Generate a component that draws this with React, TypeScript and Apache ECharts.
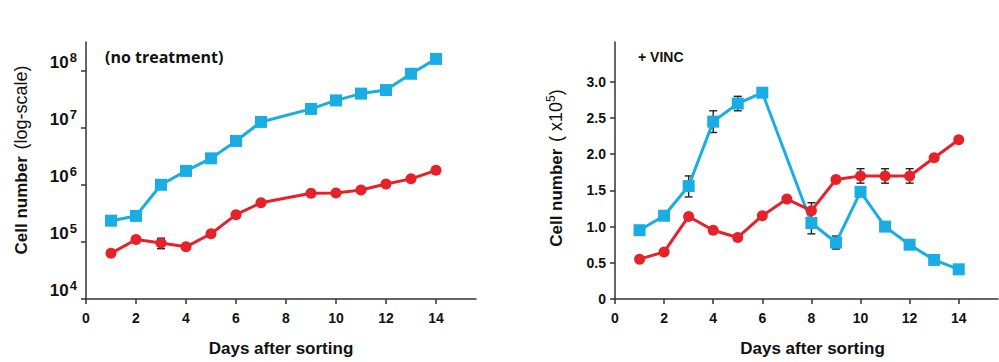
import React, { useEffect, useRef } from 'react';
import * as echarts from 'echarts';

// ---------- data ----------
const days = [1, 2, 3, 4, 5, 6, 7, 9, 10, 11, 12, 13, 14];
const noTreatBlue = [2.35e5, 2.85e5, 1.0e6, 1.75e6, 2.9e6, 5.85e6, 1.26e7, 2.13e7, 3.0e7, 3.95e7, 4.55e7, 8.8e7, 1.6e8];
const noTreatRed = [6.3e4, 1.1e5, 9.6e4, 8.2e4, 1.39e5, 3.0e5, 4.85e5, 7.1e5, 7.2e5, 8.1e5, 1.03e6, 1.27e6, 1.79e6];
const noTreatRedErr = [[3, 7.6e4, 1.16e5]];

const vincBlueDays = [1, 2, 3, 4, 5, 6, 8, 9, 10, 11, 12, 13, 14];
const vincBlue = [0.95, 1.15, 1.56, 2.45, 2.7, 2.85, 1.05, 0.78, 1.48, 1.0, 0.75, 0.54, 0.41];
const vincRedDays = [1, 2, 3, 4, 5, 6, 7, 8, 9, 10, 11, 12, 13, 14];
const vincRed = [0.55, 0.65, 1.14, 0.95, 0.85, 1.15, 1.38, 1.22, 1.65, 1.7, 1.7, 1.7, 1.95, 2.2];
const vincBlueErr = [[3, 1.41, 1.7], [4, 2.3, 2.6], [5, 2.6, 2.8], [8, 0.9, 1.2], [9, 0.69, 0.87]];
const vincRedErr = [[8, 1.12, 1.33], [10, 1.6, 1.8], [11, 1.6, 1.8], [12, 1.6, 1.8]];

const xTicks = [0, 2, 4, 6, 8, 10, 12, 14];
const logTicks = [4, 5, 6, 7, 8];
const linTicks = [0, 0.5, 1.0, 1.5, 2.0, 2.5, 3.0];

const BLUE = '#19ade4';
const RED = '#e5222a';
const AX = '#333';
const FONT = '"Liberation Sans", Arial, sans-serif';

const errRender = (params: any, api: any) => {
  const x = api.value(0);
  const lo = api.value(1);
  const hi = api.value(2);
  const p1 = api.coord([x, lo]);
  const p2 = api.coord([x, hi]);
  const cap = 4;
  const style = { stroke: '#222', lineWidth: 1.4 };
  return {
    type: 'group',
    children: [
      { type: 'line', shape: { x1: p1[0], y1: p1[1], x2: p2[0], y2: p2[1] }, style },
      { type: 'line', shape: { x1: p1[0] - cap, y1: p1[1], x2: p1[0] + cap, y2: p1[1] }, style },
      { type: 'line', shape: { x1: p2[0] - cap, y1: p2[1], x2: p2[0] + cap, y2: p2[1] }, style },
    ],
  };
};

const xAxisCommon = (gridIndex: number, extraPad: number) => ({
  type: 'value',
  gridIndex,
  min: 0,
  max: 15.6,
  name: 'Days after sorting',
  nameLocation: 'middle',
  nameGap: 41,
  nameTextStyle: { fontFamily: FONT, fontWeight: 'bold', fontSize: 17, color: '#111', padding: [0, 0, 0, extraPad] },
  splitLine: { show: false },
  axisLine: { show: true, lineStyle: { color: AX, width: 1.5 } },
  axisTick: { show: true, length: 5, customValues: xTicks, lineStyle: { color: AX, width: 1.5 } },
  axisLabel: {
    customValues: xTicks,
    fontFamily: FONT,
    fontWeight: 'bold',
    fontSize: 14,
    color: '#111',
    margin: 12,
  },
});

export default function App() {
  const ref = useRef<HTMLDivElement>(null);

  useEffect(() => {
    document.body.style.margin = '0';
    const chart = echarts.init(ref.current!, undefined, { renderer: 'svg' });
    const lg = (v: number) => Math.log10(v);

    const option: any = {
      animation: false,
      backgroundColor: '#fff',
      grid: [
        { left: 86, top: 42, width: 390, height: 262 },
        { left: 615, top: 42, width: 383, height: 262 },
      ],
      xAxis: [xAxisCommon(0, 0), xAxisCommon(1, 12)],
      yAxis: [
        {
          type: 'value',
          gridIndex: 0,
          min: 4,
          max: 8.5,
          splitLine: { show: false },
          axisLine: { show: true, lineStyle: { color: AX, width: 1.5 } },
          axisTick: { show: true, length: 5, customValues: logTicks, lineStyle: { color: AX, width: 1.5 } },
          axisLabel: {
            customValues: logTicks,
            margin: 9,
            verticalAlign: 'bottom',
            formatter: (v: number) => `{b|10}{s|${Math.round(v)}}`,
            rich: {
              b: { fontFamily: FONT, fontWeight: 'bold', fontSize: 17, lineHeight: 17, color: '#111', verticalAlign: 'bottom' },
              s: { fontFamily: FONT, fontWeight: 'bold', fontSize: 13, lineHeight: 13, color: '#111', verticalAlign: 'bottom', padding: [0, 0, 7, 1] },
            },
          },
        },
        {
          type: 'value',
          gridIndex: 1,
          min: 0,
          max: 3.55,
          splitLine: { show: false },
          axisLine: { show: true, lineStyle: { color: AX, width: 1.5 } },
          axisTick: { show: true, length: 5, customValues: linTicks, lineStyle: { color: AX, width: 1.5 } },
          axisLabel: {
            customValues: linTicks,
            margin: 9,
            fontFamily: FONT,
            fontWeight: 'bold',
            fontSize: 14,
            color: '#111',
            formatter: (v: number) => (v === 0 ? '0' : v.toFixed(1)),
          },
        },
      ],
      series: [
        {
          type: 'custom',
          name: 'no treatment error',
          xAxisIndex: 0,
          yAxisIndex: 0,
          z: 1,
          renderItem: errRender,
          encode: { x: 0, y: [1, 2] },
          data: noTreatRedErr.map((d) => [d[0], lg(d[1]), lg(d[2])]),
        },
        {
          type: 'line',
          name: 'no treatment blue',
          xAxisIndex: 0,
          yAxisIndex: 0,
          z: 3,
          symbol: 'rect',
          symbolSize: 12,
          lineStyle: { color: BLUE, width: 3 },
          itemStyle: { color: BLUE },
          data: days.map((d, i) => [d, lg(noTreatBlue[i])]),
        },
        {
          type: 'line',
          name: 'no treatment red',
          xAxisIndex: 0,
          yAxisIndex: 0,
          z: 3,
          symbol: 'circle',
          symbolSize: 11,
          lineStyle: { color: RED, width: 3 },
          itemStyle: { color: RED },
          data: days.map((d, i) => [d, lg(noTreatRed[i])]),
        },
        {
          type: 'custom',
          name: 'VINC blue error',
          xAxisIndex: 1,
          yAxisIndex: 1,
          z: 1,
          renderItem: errRender,
          encode: { x: 0, y: [1, 2] },
          data: vincBlueErr,
        },
        {
          type: 'custom',
          name: 'VINC red error',
          xAxisIndex: 1,
          yAxisIndex: 1,
          z: 1,
          renderItem: errRender,
          encode: { x: 0, y: [1, 2] },
          data: vincRedErr,
        },
        {
          type: 'line',
          name: 'VINC blue',
          xAxisIndex: 1,
          yAxisIndex: 1,
          z: 3,
          symbol: 'rect',
          symbolSize: 12,
          lineStyle: { color: BLUE, width: 3 },
          itemStyle: { color: BLUE },
          data: vincBlueDays.map((d, i) => [d, vincBlue[i]]),
        },
        {
          type: 'line',
          name: 'VINC red',
          xAxisIndex: 1,
          yAxisIndex: 1,
          z: 3,
          symbol: 'circle',
          symbolSize: 11,
          lineStyle: { color: RED, width: 3 },
          itemStyle: { color: RED },
          data: vincRedDays.map((d, i) => [d, vincRed[i]]),
        },
      ],
      graphic: [
        {
          type: 'text',
          x: 105,
          y: 57,
          style: {
            text: '(no treatment)',
            font: 'bold 16px "Open Sans", sans-serif',
            fill: '#111',
            textVerticalAlign: 'middle',
          },
        },
        {
          type: 'text',
          x: 638,
          y: 57,
          style: {
            text: '+ VINC',
            font: `bold 14px ${FONT}`,
            fill: '#111',
            textVerticalAlign: 'middle',
          },
        },
        {
          type: 'text',
          x: 21,
          y: 160,
          rotation: Math.PI / 2,
          style: {
            text: '{b|Cell number}  {n|(log-scale)}',
            align: 'center',
            verticalAlign: 'middle',
            rich: {
              b: { fontFamily: FONT, fontWeight: 'bold', fontSize: 17, fill: '#111' },
              n: { fontFamily: FONT, fontSize: 18, fill: '#111' },
            },
          },
        },
        {
          type: 'text',
          x: 555,
          y: 168,
          rotation: Math.PI / 2,
          style: {
            text: '{b|Cell number}  {n|( x10}{s|5}{n|)}',
            align: 'center',
            verticalAlign: 'middle',
            rich: {
              b: { fontFamily: FONT, fontWeight: 'bold', fontSize: 17, fill: '#111', lineHeight: 20, verticalAlign: 'bottom' },
              n: { fontFamily: FONT, fontSize: 18, fill: '#111', lineHeight: 20, verticalAlign: 'bottom' },
              s: { fontFamily: FONT, fontSize: 12, fill: '#111', lineHeight: 12, verticalAlign: 'bottom', padding: [0, 0, 8, 0] },
            },
          },
        },
      ],
    };

    chart.setOption(option);
    return () => chart.dispose();
  }, []);

  return <div ref={ref} style={{ width: 999, height: 362 }} />;
}
